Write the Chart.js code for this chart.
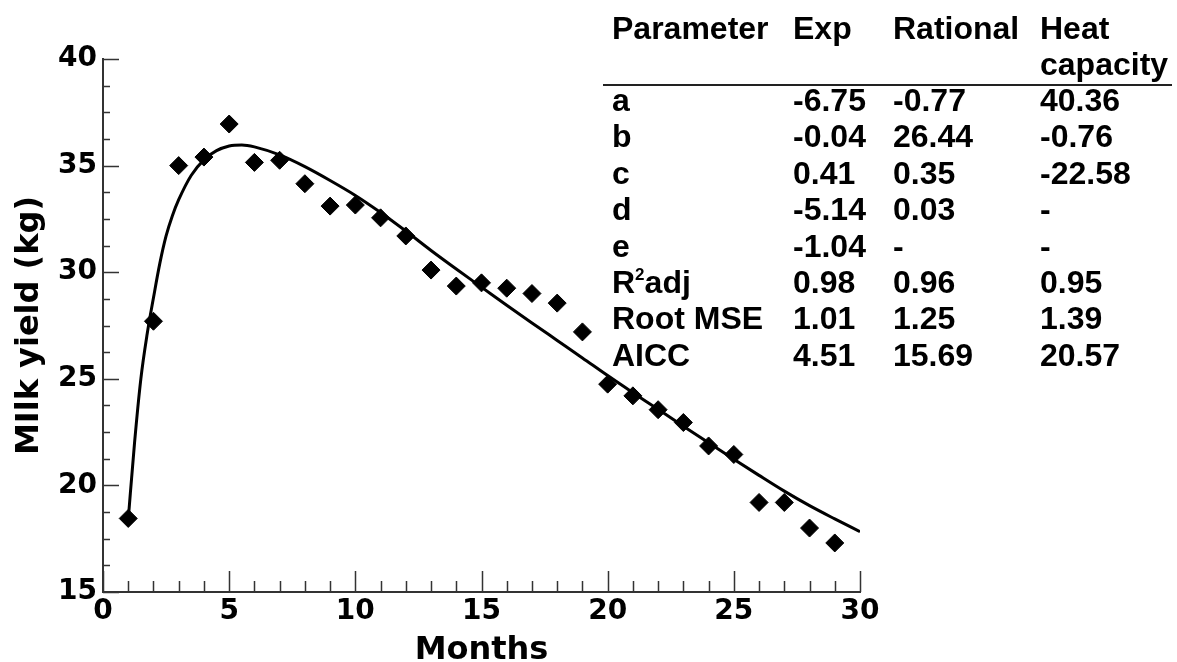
<!DOCTYPE html>
<html>
<head>
<meta charset="utf-8">
<script src="https://cdn.jsdelivr.net/npm/chart.js@4"></script>
<style>
    html, body { margin: 0; padding: 0; background: #fff; }
    #wrap { position: relative; width: 1177px; height: 662px; }
    #milkChart { position: absolute; left: 0; top: 0; }
    .cell {
        position: absolute;
        font: bold 32px "Liberation Sans", Arial, sans-serif;
        line-height: 36px;
        color: #000;
        white-space: nowrap;
    }
    .cell sup { font-size: 17px; vertical-align: 13px; line-height: 0; }
    #rule { position: absolute; left: 603px; top: 84px; width: 569px; height: 2px; background: #222; }
</style>
</head>
<body>
<div id="wrap">
    <canvas id="milkChart" width="1177" height="662"></canvas>
    <div id="rule"></div>
</div>
<script>
// observed monthly milk yield (kg)
const months = [1, 2, 3, 4, 5, 6, 7, 8, 9, 10, 11, 12, 13, 14, 15, 16, 17, 18, 19, 20, 21, 22, 23, 24, 25, 26, 27, 28, 29];
const yields = [18.45, 27.7, 35.0, 35.4, 36.95, 35.15, 35.25, 34.15, 33.1, 33.15, 32.55, 31.7, 30.1, 29.35,
                29.5, 29.25, 29.0, 28.55, 27.2, 24.75, 24.2, 23.55, 22.95, 21.85, 21.45, 19.2, 19.2, 18.0, 17.3];

// fitted curve
const fitMonths = [1, 1.25, 1.5, 1.75, 2, 2.25, 2.5, 2.75, 3, 3.5, 4, 4.5, 5, 5.5, 6, 7, 8, 9, 10,
                   11, 12, 13, 14, 15, 16, 17, 18, 19, 20, 21, 22, 23, 24, 25, 26, 27, 28, 29, 30];
const fitYields = [18.4, 22.0, 25.0, 27.1, 28.8, 30.4, 31.7, 32.65, 33.4, 34.55, 35.27, 35.7, 35.92, 35.97,
                   35.88, 35.5, 34.95, 34.3, 33.6, 32.8, 31.93, 31.02, 30.15, 29.3, 28.45, 27.62, 26.8,
                   25.98, 25.15, 24.35, 23.57, 22.78, 22.0, 21.23, 20.47, 19.73, 19.05, 18.43, 17.83];

const xTicks = [0, 5, 10, 15, 20, 25, 30];
const yTicks = [15, 20, 25, 30, 35, 40];

// parameter table
const tableHeaders = ["Parameter", "Exp", "Rational", "Heat<br>capacity"];
const paramNames = ["a", "b", "c", "d", "e", "R<sup>2</sup>adj", "Root MSE", "AICC"];
const expValues = ["-6.75", "-0.04", "0.41", "-5.14", "-1.04", "0.98", "1.01", "4.51"];
const rationalValues = ["-0.77", "26.44", "0.35", "0.03", "-", "0.96", "1.25", "15.69"];
const heatValues = ["40.36", "-0.76", "-22.58", "-", "-", "0.95", "1.39", "20.57"];

const colLeft = [612, 793, 893, 1040];

function addCell(html, left, top) {
    const div = document.createElement("div");
    div.className = "cell";
    div.style.left = left + "px";
    div.style.top = top + "px";
    div.innerHTML = html;
    document.getElementById("wrap").appendChild(div);
}

tableHeaders.forEach((h, i) => addCell(h, colLeft[i], 10));
[paramNames, expValues, rationalValues, heatValues].forEach((col, c) => {
    col.forEach((txt, r) => addCell(txt, colLeft[c], 82 + r * 36.4));
});

// inward tick marks, major and minor
const insideTicks = {
    id: "insideTicks",
    afterDraw(chart) {
        const { ctx, chartArea, scales: { x, y } } = chart;
        ctx.save();
        ctx.strokeStyle = "#333";
        ctx.lineWidth = 1.5;
        ctx.beginPath();
        for (let v = x.min; v <= x.max; v += 1) {
            const px = Math.round(x.getPixelForValue(v)) + 0.5;
            const len = v % 5 === 0 ? 21 : 11;
            ctx.moveTo(px, chartArea.bottom);
            ctx.lineTo(px, chartArea.bottom - len);
        }
        for (let v = y.min; v <= y.max; v += 1.25) {
            const py = Math.round(y.getPixelForValue(v)) + 0.5;
            const len = v % 5 === 0 ? 16 : 7;
            ctx.moveTo(chartArea.left, py);
            ctx.lineTo(chartArea.left + len, py);
        }
        ctx.stroke();
        ctx.restore();
    }
};

const tickFont = { family: "'DejaVu Sans', Verdana, sans-serif", size: 28, weight: "bold" };
const titleFont = { family: "'DejaVu Sans', Verdana, sans-serif", size: 32, weight: "bold" };

new Chart(document.getElementById("milkChart").getContext("2d"), {
    type: "scatter",
    data: {
        datasets: [
            {
                label: "Fit",
                type: "line",
                data: fitMonths.map((m, i) => ({ x: m, y: fitYields[i] })),
                borderColor: "#000",
                borderWidth: 3,
                pointRadius: 0,
                fill: false,
                cubicInterpolationMode: "monotone"
            },
            {
                label: "Observed",
                data: months.map((m, i) => ({ x: m, y: yields[i] })),
                pointStyle: "rectRot",
                pointRadius: 9,
                pointHoverRadius: 9,
                backgroundColor: "#000",
                borderColor: "#000",
                borderWidth: 1
            }
        ]
    },
    options: {
        responsive: false,
        animation: false,
        layout: { padding: { top: 59, right: 317, bottom: 0, left: 0 } },
        plugins: { legend: { display: false }, tooltip: { enabled: false } },
        scales: {
            x: {
                type: "linear",
                min: 0,
                max: 30,
                afterBuildTicks: s => { s.ticks = xTicks.map(v => ({ value: v })); },
                afterFit: s => { s.height = 70; },
                ticks: { color: "#000", font: tickFont, padding: 3, maxRotation: 0 },
                grid: { display: false, drawTicks: false },
                border: { display: true, color: "#333", width: 2 },
                title: { display: true, text: "Months", color: "#000", font: titleFont, padding: { top: 0, bottom: -8 } }
            },
            y: {
                min: 15,
                max: 40,
                afterBuildTicks: s => { s.ticks = yTicks.map(v => ({ value: v })); },
                afterFit: s => { s.width = 103; },
                ticks: { color: "#000", font: tickFont, padding: 6 },
                grid: { display: false, drawTicks: false },
                border: { display: true, color: "#333", width: 2 },
                title: { display: true, text: "MIlk yield (kg)", color: "#000", font: titleFont, padding: { top: 10, bottom: 0 } }
            }
        }
    },
    plugins: [insideTicks]
});
</script>
</body>
</html>
